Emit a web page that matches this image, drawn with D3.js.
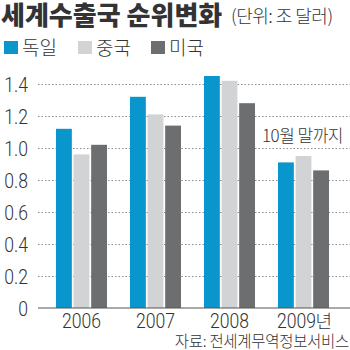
<!DOCTYPE html>
<html>
<head>
<meta charset="utf-8">
<script src="https://cdn.jsdelivr.net/npm/d3@7/dist/d3.min.js"></script>
<style>
  html, body { margin: 0; padding: 0; background: #fff; }
  svg { display: block; }
  text { font-family: "Noto Sans CJK KR", "Noto Sans", sans-serif; fill: #333; }
</style>
</head>
<body>
<script>
// Exports by year, in trillion dollars
const years = ["2006", "2007", "2008", "2009년"];
const seriesNames = ["독일", "중국", "미국"];
const germany = [1.12, 1.32, 1.45, 0.91];
const china = [0.96, 1.21, 1.42, 0.95];
const usa = [1.02, 1.14, 1.28, 0.86];
const yTicks = [0, 0.2, 0.4, 0.6, 0.8, 1.0, 1.2, 1.4];
const yTickLabels = ["0", "0.2", "0.4", "0.6", "0.8", "1.0", "1.2", "1.4"];
const colors = ["#0896cc", "#d1d3d4", "#6d6e70"];

const W = 350, H = 350;
const svg = d3.select("body").append("svg").attr("width", W).attr("height", H);

const plotLeft = 38, plotRight = 350, plotTop = 84, plotBottom = 308;

const y = d3.scaleLinear().domain([0, 1.4]).range([plotBottom, plotTop]);
const x0 = d3.scaleBand().domain(years).range([56, 329]).paddingInner(23 / 74).paddingOuter(0);
const x1 = d3.scaleBand().domain(seriesNames).range([0, x0.bandwidth()]).paddingInner(0.1);

const data = years.map((yr, i) => ({
  year: yr,
  values: [germany[i], china[i], usa[i]]
}));

// Dotted gridlines with tick labels
const yAxis = d3.axisLeft(y).tickValues(yTicks)
  .tickFormat((d, i) => yTickLabels[i])
  .tickSize(-(plotRight - plotLeft)).tickPadding(10);
const gy = svg.append("g").attr("transform", `translate(${plotLeft},0)`).call(yAxis);
gy.select(".domain").remove();
gy.selectAll(".tick line")
  .attr("stroke", "#8a8a8a").attr("stroke-width", 1)
  .attr("stroke-dasharray", "1.5,2");
gy.selectAll(".tick").filter(d => d === 0).select("line").remove();
gy.selectAll(".tick text")
  .style("font-family", "Roboto, 'Noto Sans', sans-serif")
  .style("font-weight", "300")
  .attr("font-size", 20).attr("fill", "#333")
  .attr("text-anchor", "end")
  .attr("dy", "0.35em")
  .attr("transform", "scale(0.88,1)")
  .attr("x", -10 / 0.88);

// Bars
const groups = svg.append("g").selectAll("g").data(data).join("g")
  .attr("transform", d => `translate(${x0(d.year)},0)`);
groups.selectAll("rect").data(d => d.values.map((v, i) => ({ v, i })))
  .join("rect")
  .attr("x", d => x1(seriesNames[d.i]))
  .attr("width", x1.bandwidth())
  .attr("y", d => y(d.v))
  .attr("height", d => y(0) - y(d.v))
  .attr("fill", d => colors[d.i]);

// Baseline
svg.append("line").attr("x1", plotLeft).attr("x2", plotRight)
  .attr("y1", y(0)).attr("y2", y(0))
  .attr("stroke", "#555").attr("stroke-width", 1.2);

// Year labels: digits condensed, the Hangul suffix at natural width
const xAxis = d3.axisBottom(x0).tickSize(0).tickPadding(0);
const gx = svg.append("g").call(xAxis);
gx.select(".domain").remove();
gx.selectAll(".tick").each(function (d) {
  const cx = x0(d) + x0.bandwidth() / 2;
  const digits = d.replace(/[^0-9]/g, "");
  const suffix = d.replace(/[0-9]/g, "");
  const tick = d3.select(this).attr("transform", null);
  tick.select("text").remove();
  const digitX = suffix ? cx - 7 : cx;
  tick.append("text")
    .attr("transform", `translate(${digitX},328) scale(0.88,1)`)
    .attr("text-anchor", "middle")
    .style("font-family", "Roboto, sans-serif")
    .style("font-weight", "300")
    .attr("font-size", 20).attr("fill", "#333")
    .text(digits);
  if (suffix) {
    tick.append("text")
      .attr("x", digitX + 19).attr("y", 328)
      .attr("text-anchor", "start")
      .attr("font-size", 18).attr("font-weight", 300).attr("fill", "#333")
      .text(suffix);
  }
});

// Title
svg.append("text").attr("x", 1).attr("y", 25)
  .attr("font-size", 26).attr("font-weight", 900).attr("fill", "#2b2b2b")
  .text("세계수출국 순위변화");
svg.append("text").attr("x", 231).attr("y", 23)
  .attr("font-size", 18).attr("font-weight", 300).attr("fill", "#333")
  .attr("letter-spacing", -0.5)
  .text("(단위: 조 달러)");

// Legend
const legendX = [4, 78, 151];
seriesNames.forEach((name, i) => {
  svg.append("rect").attr("x", legendX[i]).attr("y", 41)
    .attr("width", 14).attr("height", 13).attr("fill", colors[i]);
  svg.append("text").attr("x", legendX[i] + 18).attr("y", 55)
    .attr("font-size", 19).attr("font-weight", 300).attr("fill", "#333").text(name);
});

// Annotation for the partial year
svg.append("text").attr("x", 343).attr("y", 142)
  .attr("text-anchor", "end")
  .attr("font-size", 17).attr("font-weight", 300).attr("fill", "#333")
  .attr("letter-spacing", -0.5)
  .text("10월 말까지");

// Source
svg.append("text").attr("x", 349).attr("y", 347)
  .attr("text-anchor", "end")
  .attr("font-size", 15.5).attr("font-weight", 300).attr("fill", "#333")
  .attr("letter-spacing", -0.3)
  .text("자료: 전세계무역정보서비스");
</script>
</body>
</html>
